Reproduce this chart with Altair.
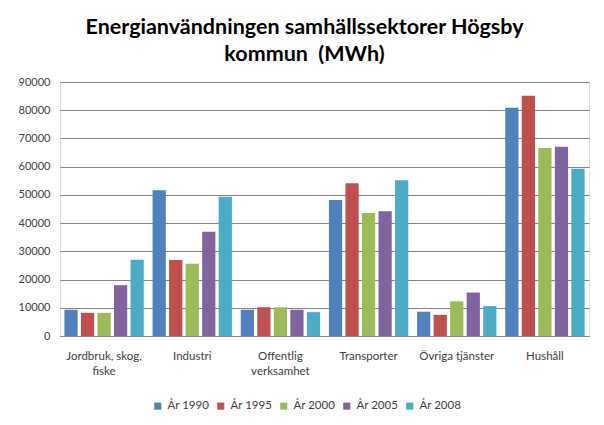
import altair as alt
import pandas as pd

categories = ["Jordbruk, skog, fiske", "Industri", "Offentlig verksamhet",
              "Transporter", "Övriga tjänster", "Hushåll"]
series = ["År 1990", "År 1995", "År 2000", "År 2005", "År 2008"]
v1990 = [9300, 51600, 9300, 48200, 8600, 80900]
v1995 = [8200, 26900, 10200, 54100, 7500, 85100]
v2000 = [8200, 25600, 10150, 43600, 12300, 66600]
v2005 = [18000, 36900, 9300, 44200, 15400, 67100]
v2008 = [27000, 49300, 8450, 55200, 10600, 59300]
colors = ["#4F81BD", "#C0504D", "#9BBB59", "#8064A2", "#4BACC6"]
y_ticks = [0, 10000, 20000, 30000, 40000, 50000, 60000, 70000, 80000, 90000]

rows = []
for s, vals in zip(series, [v1990, v1995, v2000, v2005, v2008]):
    for c, v in zip(categories, vals):
        rows.append({"sektor": c, "serie": s, "value": v})
df = pd.DataFrame(rows)

FONT = "Lato"
label_expr = ("datum.label == 'Jordbruk, skog, fiske' ? ['Jordbruk, skog,', 'fiske'] : "
              "datum.label == 'Offentlig verksamhet' ? ['Offentlig', 'verksamhet'] : datum.label")

chart = alt.Chart(df).mark_bar().encode(
    x=alt.X("sektor:N", sort=categories, title=None,
            scale=alt.Scale(paddingInner=0.1, paddingOuter=0.05),
            axis=alt.Axis(labelAngle=0, labelExpr=label_expr, ticks=False,
                          labelPadding=20, labelFontSize=11.5, labelColor="#404040",
                          labelFont=FONT, labelLineHeight=15, domainColor="#868686",
                          labelBaseline="middle")),
    xOffset=alt.XOffset("serie:N", sort=series, scale=alt.Scale(paddingInner=0.2)),
    y=alt.Y("value:Q", title=None, scale=alt.Scale(domain=[0, 90000]),
            axis=alt.Axis(values=y_ticks, format="d", ticks=False, domain=False,
                          labelPadding=10, labelFontSize=11, labelColor="#404040",
                          labelFont=FONT, gridColor="#868686", gridWidth=1)),
    color=alt.Color("serie:N", sort=series,
                    scale=alt.Scale(domain=series, range=colors),
                    legend=alt.Legend(title=None, orient="none", direction="horizontal",
                                      legendX=92, legendY=318, symbolType="square",
                                      symbolSize=50, symbolStrokeWidth=0,
                                      labelFontSize=11.5, labelFont=FONT,
                                      labelColor="#404040", columnPadding=5,
                                      labelOffset=4)),
).properties(
    width=529, height=254,
    autosize=alt.AutoSizeParams(type="none"),
    padding={"left": 52, "top": 74, "right": 7, "bottom": 81},
    title=alt.TitleParams(
        text=["Energianvändningen samhällssektorer Högsby", "kommun\u00a0\u00a0(MWh)"],
        font=FONT, fontSize=21.5, fontWeight="bold", color="#000000",
        anchor="middle", dx=-20, offset=11, lineHeight=27),
).configure_view(stroke=None).configure(background="white")

chart.save("out.html", embed_options={"renderer": "svg", "actions": False})
